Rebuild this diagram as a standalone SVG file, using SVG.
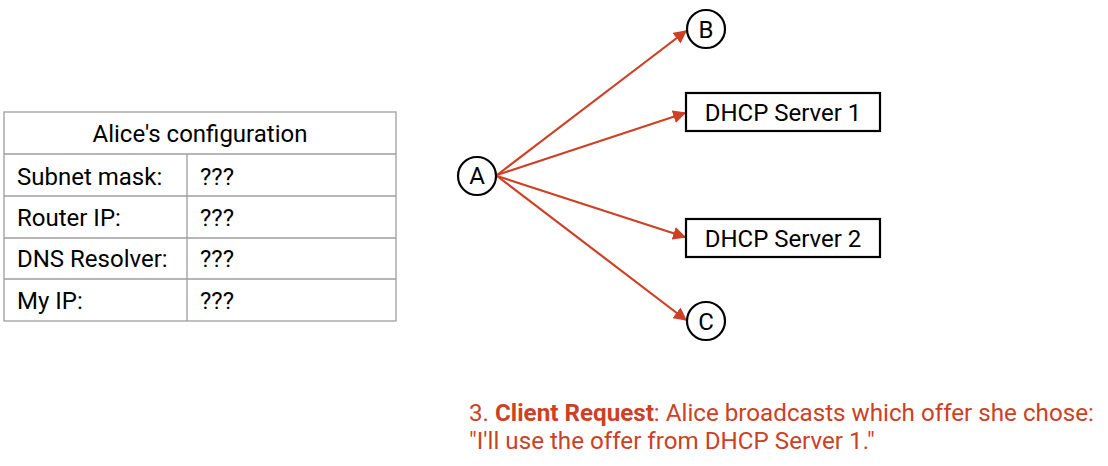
<svg xmlns="http://www.w3.org/2000/svg" width="1108" height="466" viewBox="0 0 1108 466">
<defs>
<style>
text{font-family:Roboto,"Liberation Sans",sans-serif;font-size:24px;fill:#000}
.cell{fill:#fff;stroke:#9e9e9e;stroke-width:1.3}
.node{fill:#fff;stroke:#000;stroke-width:2.2}
.edge{stroke:#cc4125;stroke-width:2.2;fill:none;marker-end:url(#ah)}
.cap{fill:#cc4125;font-size:24.2px}
</style>
<marker id="ah" viewBox="0 0 10 10" refX="9" refY="5" markerWidth="6" markerHeight="6" orient="auto" markerUnits="strokeWidth">
<path d="M0,0 L10,5 L0,10 z" fill="#cc4125"/>
</marker>
</defs>
<rect width="1108" height="466" fill="#fff"/>
<g id="table">
<rect class="cell" x="4" y="112" width="392" height="209"/>
<line class="cell" x1="4" y1="154" x2="396" y2="154"/>
<line class="cell" x1="4" y1="196" x2="396" y2="196"/>
<line class="cell" x1="4" y1="238" x2="396" y2="238"/>
<line class="cell" x1="4" y1="279" x2="396" y2="279"/>
<line class="cell" x1="187" y1="154" x2="187" y2="321"/>
<text x="200" y="142" text-anchor="middle">Alice's configuration</text>
<text x="17" y="185">Subnet mask:</text><text x="200" y="185">???</text>
<text x="17" y="226">Router IP:</text><text x="200" y="226">???</text>
<text x="17" y="267">DNS Resolver:</text><text x="200" y="267">???</text>
<text x="17" y="309">My IP:</text><text x="200" y="309">???</text>
</g>
<g id="connectors">
<line class="edge" x1="497" y1="175" x2="686" y2="31"/>
<line class="edge" x1="497" y1="175" x2="685" y2="113"/>
<line class="edge" x1="497" y1="176" x2="685" y2="237"/>
<line class="edge" x1="497" y1="176" x2="686" y2="320"/>
</g>
<g id="A"><circle class="node" cx="477" cy="176" r="19"/><text x="477" y="184" text-anchor="middle">A</text></g>
<g id="B"><circle class="node" cx="706" cy="29" r="19"/><text x="706" y="38" text-anchor="middle">B</text></g>
<g id="C"><circle class="node" cx="706" cy="321" r="19"/><text x="706" y="330" text-anchor="middle">C</text></g>
<g id="dhcp1"><rect class="node" x="686" y="93" width="194" height="38"/><text x="783" y="121" text-anchor="middle">DHCP Server 1</text></g>
<g id="dhcp2"><rect class="node" x="686" y="219" width="194" height="38"/><text x="783" y="247" text-anchor="middle">DHCP Server 2</text></g>
<g id="caption">
<text class="cap" x="469" y="421">3. <tspan font-weight="bold">Client Request</tspan>: Alice broadcasts which offer she chose:</text>
<text class="cap" x="469" y="449">"I'll use the offer from DHCP Server 1."</text>
</g>
</svg>
